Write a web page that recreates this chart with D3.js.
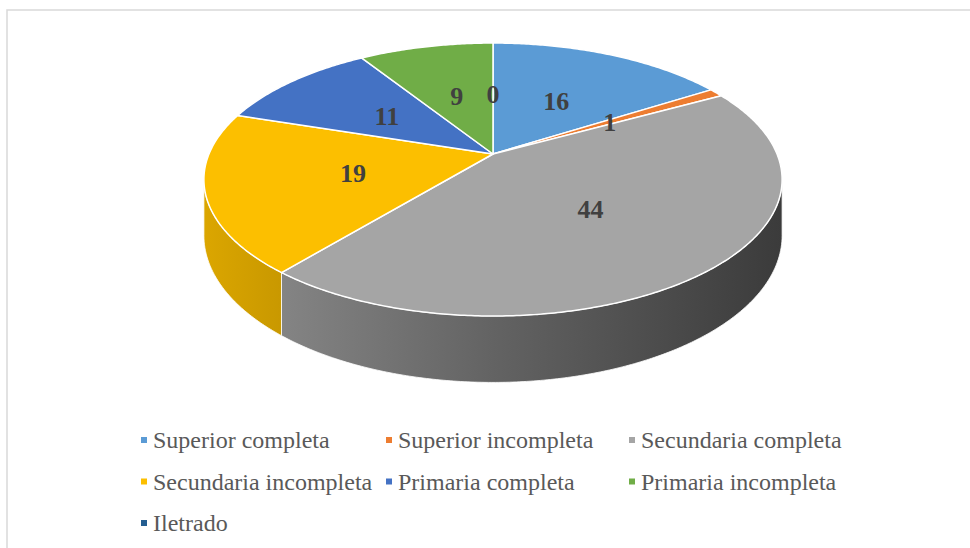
<!DOCTYPE html>
<html>
<head>
<meta charset="utf-8">
<script src="https://cdn.jsdelivr.net/npm/d3@7"></script>
<style>
  html, body { margin: 0; padding: 0; background: #fff; }
  svg { display: block; }
</style>
</head>
<body>
<div class="chart"></div>
<script>
var categories = [ 'Superior completa', 'Superior incompleta', 'Secundaria completa',
                   'Secundaria incompleta', 'Primaria completa', 'Primaria incompleta', 'Iletrado' ]
var values = [ 16, 1, 44, 19, 11, 9, 0 ]
var colors = [ '#5b9bd5', '#ed7d31', '#a5a5a5', '#fcbf00', '#4472c4', '#70ad47', '#255e91' ]

var width = 970, height = 548

// perspective disc: p tilts the far side away, depth is the extrusion
var cx = 493, cy = 154, rx = 284, ry = 131.7, p = 0.187, depth = 54

var project = (f, a, z) => {
  var u = f * Math.sin (a), v = -f * Math.cos (a)
  var w = 1 - p * v
  return [ cx + rx * u / w, cy + (ry * v + depth * (z || 0)) / w ]
}

var rimPoints = (a0, a1, z) => {
  var n = Math.max (2, Math.ceil (Math.abs (a1 - a0) / 0.01))
  return d3.range (n + 1).map ((i) => project (1, a0 + (a1 - a0) * i / n, z))
}

var svg = d3.select ('.chart').append ('svg')
    .attr ('width', width)
    .attr ('height', height)

var defs = svg.append ('defs')

svg.append ('rect')
  .attr ('x', 7).attr ('y', 10)
  .attr ('width', width).attr ('height', height)
  .attr ('fill', '#fff')
  .attr ('stroke', '#d9d9d9')
  .attr ('stroke-width', 1.5)

var arcs = d3.pie ().sort (null).value ((d) => d) (values)
var line = d3.line ()

// visible part of the wall lies between the two silhouette points
var wallStart = Math.acos (-p), wallEnd = 2 * Math.PI - Math.acos (-p)
var leftX = project (1, wallEnd)[0], rightX = project (1, wallStart)[0]

var shade = (color, k) => {
  var c = d3.rgb (color)
  return d3.rgb (c.r * k, c.g * k, c.b * k).formatHex ()
}

arcs.forEach ((arc, i) => {
  var a0 = Math.max (arc.startAngle, wallStart), a1 = Math.min (arc.endAngle, wallEnd)
  if (a1 <= a0) return
  var grad = defs.append ('linearGradient')
      .attr ('id', 'side' + i)
      .attr ('gradientUnits', 'userSpaceOnUse')
      .attr ('x1', leftX).attr ('x2', rightX)
      .attr ('y1', 0).attr ('y2', 0)
  grad.append ('stop').attr ('offset', 0).attr ('stop-color', shade (colors[i], 0.87))
  grad.append ('stop').attr ('offset', 0.5).attr ('stop-color', shade (colors[i], 0.6))
  grad.append ('stop').attr ('offset', 1).attr ('stop-color', shade (colors[i], 0.36))
  var pts = rimPoints (a0, a1, 0).concat (rimPoints (a1, a0, 1))
  svg.append ('path')
    .attr ('d', line (pts) + 'Z')
    .attr ('fill', 'url(#side' + i + ')')
    .attr ('stroke', '#fff')
    .attr ('stroke-width', 1)
    .attr ('stroke-opacity', 0.8)
})

arcs.forEach ((arc, i) => {
  if (arc.endAngle <= arc.startAngle) return
  var pts = [ project (0, 0) ].concat (rimPoints (arc.startAngle, arc.endAngle, 0))
  svg.append ('path')
    .attr ('d', line (pts) + 'Z')
    .attr ('fill', colors[i])
    .attr ('stroke', '#fff')
    .attr ('stroke-width', 1.5)
    .attr ('stroke-linejoin', 'round')
})

arcs.forEach ((arc, i) => {
  var pos = project (0.5, (arc.startAngle + arc.endAngle) / 2)
  svg.append ('text')
    .attr ('x', pos[0])
    .attr ('y', pos[1])
    .attr ('dy', '0.35em')
    .attr ('text-anchor', 'middle')
    .attr ('font-family', '"Liberation Serif", "Times New Roman", serif')
    .attr ('font-weight', 'bold')
    .attr ('font-size', 26)
    .attr ('fill', '#404040')
    .text (values[i])
})

// legend, three per row
var colX = [ 142, 387, 630 ], rowY = [ 448, 489.5, 531 ]
var legend = svg.append ('g').attr ('class', 'legend')
categories.forEach ((name, i) => {
  var x = colX[i % 3], y = rowY[Math.floor (i / 3)]
  legend.append ('rect')
    .attr ('x', x - 1).attr ('y', y - 11)
    .attr ('width', 6).attr ('height', 6)
    .attr ('fill', colors[i])
  legend.append ('text')
    .attr ('x', x + 11).attr ('y', y)
    .attr ('font-family', '"Liberation Serif", "Times New Roman", serif')
    .attr ('font-size', 24)
    .attr ('fill', '#595959')
    .text (name)
})
</script>
</body>
</html>
